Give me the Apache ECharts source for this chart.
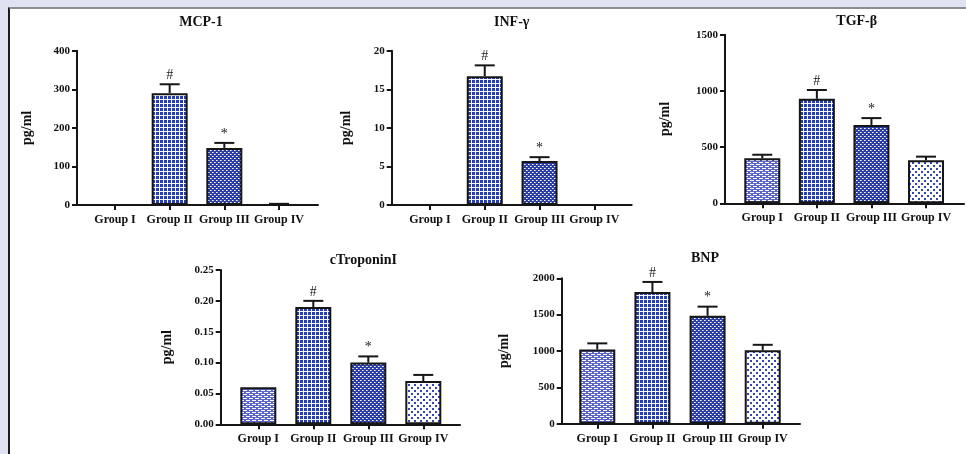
<!DOCTYPE html>
<html>
<head>
<meta charset="utf-8">
<script src="https://cdn.jsdelivr.net/npm/echarts@6/dist/echarts.min.js"></script>
<style>
html,body{margin:0;padding:0;background:#dfe2f0;width:966px;height:454px;overflow:hidden;}
#frame{position:absolute;left:8px;top:7px;width:980px;height:470px;background:#fff;border-left:2px solid #1c1c1c;border-top:2px solid #8e8e8e;}
#chart{position:absolute;left:0;top:0;width:966px;height:454px;}
</style>
</head>
<body>
<div id="frame"></div>
<div id="chart"></div>
<script>
// ---- data ----
const categories = ['Group I', 'Group II', 'Group III', 'Group IV'];
const marks = ['', '#', '*', ''];

const mcp1 = [0, 290, 148, 0];
const mcp1Err = [0, 23, 13, 3];
const mcp1Ticks = [0, 100, 200, 300, 400];

const infg = [0, 16.7, 5.7, 0];
const infgErr = [0, 1.4, 0.5, 0];
const infgTicks = [0, 5, 10, 15, 20];

const tgfb = [400, 930, 697, 383];
const tgfbErr = [32, 78, 61, 32];
const tgfbTicks = [0, 500, 1000, 1500];

const ctn = [0.06, 0.19, 0.10, 0.07];
const ctnErr = [0, 0.01, 0.01, 0.01];
const ctnTicks = [0, 0.05, 0.10, 0.15, 0.20, 0.25];

const bnp = [1020, 1810, 1485, 1010];
const bnpErr = [85, 140, 125, 75];
const bnpTicks = [0, 500, 1000, 1500, 2000];

const panels = [
  {title: 'MCP-1', vals: mcp1, errs: mcp1Err, ticks: mcp1Ticks, dec: 0},
  {title: 'INF-γ', vals: infg, errs: infgErr, ticks: infgTicks, dec: 0},
  {title: 'TGF-β', vals: tgfb, errs: tgfbErr, ticks: tgfbTicks, dec: 0},
  {title: 'cTroponinI', vals: ctn, errs: ctnErr, ticks: ctnTicks, dec: 2},
  {title: 'BNP', vals: bnp, errs: bnpErr, ticks: bnpTicks, dec: 0}
];

// ---- layout (pixels) ----
const layouts = [
  {ax: 77,    top: 50.7,  bot: 205,   end: 318,   aL: 87.7,  aR: 306.3, tx: 201,   ty: 23,    gap: 43},
  {ax: 391.7, top: 50.7,  bot: 205,   end: 631.7, aL: 402.6, aR: 621.7, tx: 511.7, ty: 23,    gap: 38},
  {ax: 725,   top: 34.7,  bot: 203.3, end: 964,   aL: 735,   aR: 953.3, tx: 856.7, ty: 22.7,  gap: 53},
  {ax: 220.7, top: 270,   bot: 424.3, end: 460,   aL: 230.8, aR: 450.8, tx: 363.3, ty: 261.7, gap: 46},
  {ax: 561.7, top: 278.3, bot: 423.7, end: 800,   aL: 569.7, aR: 790.3, tx: 705,   ty: 259.3, gap: 50}
];

const FONT = '"Liberation Serif", "Times New Roman", serif';
const INK = '#161616';
const BLUE = '#2b3ea5';

function makePattern(w, h, bg, draws) {
  const c = document.createElement('canvas');
  c.width = w; c.height = h;
  const g = c.getContext('2d');
  g.fillStyle = bg; g.fillRect(0, 0, w, h);
  draws.forEach(d => { g.fillStyle = d[4]; g.fillRect(d[0], d[1], d[2], d[3]); });
  return {image: c, repeat: 'repeat'};
}
const patterns = [
  // brick
  makePattern(6, 4, '#5c66c6', [[0, 0, 4, 1, '#ffffff'], [3, 2, 3, 1, '#ffffff'], [0, 2, 1, 1, '#ffffff']]),
  // grid
  makePattern(4, 4, BLUE, [[3, 0, 1, 4, '#ffffff'], [0, 3, 4, 1, '#ffffff']]),
  // fine checker (white dots on blue)
  makePattern(4, 4, BLUE, [[0, 0, 1, 1, '#ffffff'], [2, 2, 1, 1, '#ffffff'], [1, 0, 1, 1, '#aab3ea'], [3, 2, 1, 1, '#aab3ea']]),
  // dots on white
  makePattern(6, 6, '#ffffff', [[0, 0, 2, 2, '#3446b0'], [3, 3, 2, 2, '#3446b0']])
];

const grids = [], xAxes = [], yAxes = [], series = [], titles = [];

panels.forEach((p, k) => {
  const L = layouts[k];
  const ymin = p.ticks[0], ymax = p.ticks[p.ticks.length - 1];
  const step = p.ticks[1] - p.ticks[0];
  const h = L.bot - L.top;
  // frame grid (axis lines, y labels)
  const gB = grids.length;
  grids.push({left: L.ax, top: L.top, width: L.end - L.ax, height: h});
  xAxes.push({gridIndex: gB, type: 'value', min: 0, max: 1, position: 'bottom',
    axisLine: {show: true, onZero: false, lineStyle: {color: INK, width: 2}},
    axisTick: {show: false}, axisLabel: {show: false}, splitLine: {show: false}});
  yAxes.push({gridIndex: gB, type: 'value', min: ymin, max: ymax, interval: step,
    axisLine: {show: true, lineStyle: {color: INK, width: 2}},
    axisTick: {show: true, length: 5, lineStyle: {color: INK, width: 2}},
    axisLabel: {margin: 7, fontFamily: FONT, fontWeight: 'bold', fontSize: 11, color: '#111',
      formatter: v => Number(v).toFixed(p.dec)},
    splitLine: {show: false},
    name: 'pg/ml', nameLocation: 'middle', nameGap: L.gap,
    nameTextStyle: {fontFamily: FONT, fontWeight: 'bold', fontSize: 14, color: '#111'}});
  // data grid
  const gA = grids.length;
  grids.push({left: L.aL, top: L.top, width: L.aR - L.aL, height: h});
  xAxes.push({gridIndex: gA, type: 'category', data: categories, boundaryGap: true,
    axisLine: {show: false},
    axisTick: {show: true, alignWithLabel: true, length: 5, lineStyle: {color: INK, width: 2}},
    axisLabel: {margin: 9, fontFamily: FONT, fontWeight: 'bold', fontSize: 12, color: '#111', interval: 0},
    splitLine: {show: false}});
  yAxes.push({gridIndex: gA, type: 'value', min: ymin, max: ymax, show: false, splitLine: {show: false}});

  series.push({
    type: 'bar', xAxisIndex: gA, yAxisIndex: gA, barWidth: 36, z: 3,
    data: p.vals.map((v, i) => ({
      value: v,
      itemStyle: {color: patterns[i], borderColor: INK, borderWidth: v === 0 ? 0 : 2}
    }))
  });
  series.push({
    type: 'custom', xAxisIndex: gA, yAxisIndex: gA, z: 4,
    data: p.vals.map((v, i) => [i, v, p.errs[i]]),
    renderItem: (params, api) => {
      const x = api.value(0), v = api.value(1), e = api.value(2);
      const p0 = api.coord([x, v]);
      const p1 = api.coord([x, v + e]);
      const children = [];
      if (e > 0) {
        children.push({type: 'line', shape: {x1: p0[0], y1: p0[1], x2: p1[0], y2: p1[1]},
          style: {stroke: INK, lineWidth: 2}});
        children.push({type: 'line', shape: {x1: p1[0] - 10, y1: p1[1], x2: p1[0] + 10, y2: p1[1]},
          style: {stroke: INK, lineWidth: 2}});
      }
      const m = marks[params.dataIndex];
      if (m) {
        children.push({type: 'text', style: {text: m, x: p1[0], y: p1[1] - 2,
          align: 'center', verticalAlign: 'bottom',
          font: '14px ' + FONT, fill: '#222'}});
      }
      return {type: 'group', children: children};
    }
  });
  titles.push({text: p.title, left: L.tx, top: L.ty - 8, textAlign: 'center', padding: 0,
    textStyle: {fontFamily: FONT, fontWeight: 'bold', fontSize: 14, color: '#111'}});
});

const chart = echarts.init(document.getElementById('chart'), null, {renderer: 'canvas'});
chart.setOption({
  animation: false,
  backgroundColor: 'transparent',
  title: titles,
  grid: grids,
  xAxis: xAxes,
  yAxis: yAxes,
  series: series
});
</script>
</body>
</html>
